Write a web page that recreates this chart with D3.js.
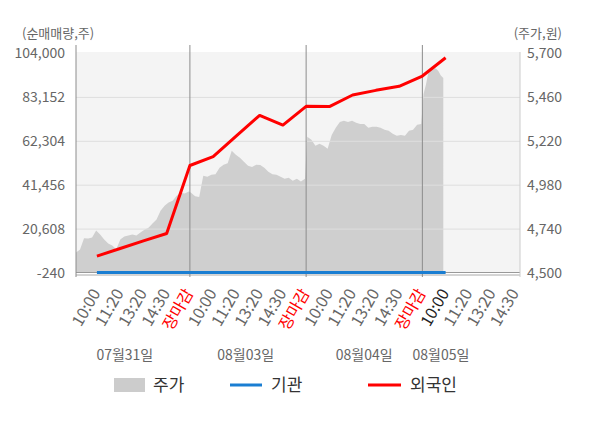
<!DOCTYPE html>
<html>
<head>
<meta charset="utf-8">
<script src="https://cdn.jsdelivr.net/npm/d3@7"></script>
<style>
  body { margin: 0; background: #fff; }
  text { font-family: "Noto Sans CJK KR", "Noto Sans", sans-serif; }
</style>
</head>
<body>
<div id="chart"></div>
<script>
// ---- data ----
const volTicks = [-240, 20608, 41456, 62304, 83152, 104000];
const priceTicks = [4500, 4740, 4980, 5220, 5460, 5700];

const timeLabels = ["10:00", "11:20", "13:20", "14:30", "장마감"];
const dateLabels = ["07월31일", "08월03일", "08월04일", "08월05일"];
const datePos = [2.2, 7.4, 12.5, 15.8]; // in slot units

// price samples for each session (won)
const priceDay1 = [4612, 4628, 4690, 4688, 4694, 4732, 4710, 4683, 4661, 4650, 4630, 4683, 4699, 4705, 4710,
    4705, 4721, 4737, 4748, 4770, 4792, 4841, 4868, 4885, 4895, 4923, 4939, 4934, 4945];
const priceDay2 = [4939, 4920, 4915, 5032, 5026, 5037, 5040, 5075, 5092, 5100, 5168, 5146, 5130, 5108, 5086,
    5080, 5092, 5090, 5075, 5054, 5040, 5037, 5026, 5015, 5021, 5005, 5015, 5000, 5015];
const priceDay3 = [5245, 5228, 5195, 5206, 5195, 5179, 5255, 5294, 5326, 5332, 5326, 5332, 5321, 5315, 5315,
    5294, 5299, 5299, 5294, 5283, 5277, 5261, 5250, 5255, 5250, 5277, 5283, 5310, 5315];
const priceDay4 = [5479, 5530, 5600, 5610, 5621, 5618, 5605, 5580, 5566];

// net buying (shares), one value per time slot 1..16
const foreignNet = [7800, 11400, 15000, 18500, 50800, 55000, 64900, 74600, 70000, 78900, 78800, 84300, 86500, 88400, 93300, 102000];
const institNet = [0, 0, 0, 0, 0, 0, 0, 0, 0, 0, 0, 0, 0, 0, 0, 0];

// ---- layout ----
const W = 600, H = 428;
const plot = { left: 76, right: 520, top: 53.5, bottom: 273 };

const svg = d3.select("#chart").append("svg")
    .attr("width", W)
    .attr("height", H);

const x = d3.scaleLinear().domain([0.1, 19.2]).range([plot.left, plot.right]);
const yVol = d3.scaleLinear().domain([-240, 104000]).range([plot.bottom, plot.top]);
const yPrice = d3.scaleLinear().domain([4500, 5700]).range([plot.bottom, plot.top]);

const fmt = d => d3.format(",")(d).replace("\u2212", "-"); //plain hyphen like the original

// session placement (slot units)
const dayStart = [0.1, 5.05, 10.05, 15.05];
const dayEnd = [4.95, 9.95, 14.95, 15.9];
const priceData = [];
[priceDay1, priceDay2, priceDay3, priceDay4].forEach((arr, d) => {
    arr.forEach((p, i) => {
        priceData.push({ t: dayStart[d] + i * (dayEnd[d] - dayStart[d]) / (arr.length - 1), p: p });
    });
});

//plot background
svg.append("rect")
    .attr("x", plot.left)
    .attr("y", plot.top - 1.5)
    .attr("width", plot.right - plot.left)
    .attr("height", plot.bottom - plot.top + 1.5)
    .attr("fill", "#f4f4f4");

//price area
svg.append("path")
    .datum(priceData)
    .attr("fill", "#cfcfcf")
    .attr("d", d3.area()
        .x(d => x(d.t))
        .y0(plot.bottom)
        .y1(d => yPrice(d.p)));

//horizontal grid lines
svg.append("g")
    .selectAll("line")
    .data(volTicks.slice(1, -1))
    .enter()
    .append("line")
    .attr("x1", plot.left)
    .attr("x2", plot.right)
    .attr("y1", d => yVol(d))
    .attr("y2", d => yVol(d))
    .attr("stroke", "#dedede")
    .attr("stroke-width", 1);

//bottom lines
svg.append("line")
    .attr("x1", plot.left).attr("x2", plot.right)
    .attr("y1", plot.bottom - 0.5).attr("y2", plot.bottom - 0.5)
    .attr("stroke", "#999");
svg.append("line")
    .attr("x1", plot.left).attr("x2", plot.right)
    .attr("y1", plot.bottom + 2).attr("y2", plot.bottom + 2)
    .attr("stroke", "#aaa");

//day separators
svg.append("g")
    .selectAll("line")
    .data([5, 10, 15])
    .enter()
    .append("line")
    .attr("x1", d => x(d))
    .attr("x2", d => x(d))
    .attr("y1", 45)
    .attr("y2", plot.bottom + 4)
    .attr("stroke", "#8c8c8c");

//left and right axis lines
svg.append("line")
    .attr("x1", plot.left).attr("x2", plot.left)
    .attr("y1", 45).attr("y2", plot.bottom + 4)
    .attr("stroke", "#8c8c8c");
svg.append("line")
    .attr("x1", plot.right).attr("x2", plot.right)
    .attr("y1", plot.top - 1.5).attr("y2", plot.bottom + 4)
    .attr("stroke", "#cccccc");

//institution line
const slots = d3.range(1, institNet.length + 1);
svg.append("path")
    .datum(institNet)
    .attr("fill", "none")
    .attr("stroke", "#1a7ed2")
    .attr("stroke-width", 3)
    .attr("d", d3.line().x((d, i) => x(slots[i])).y(d => yVol(d)));

//foreign line
svg.append("path")
    .datum(foreignNet)
    .attr("fill", "none")
    .attr("stroke", "#ff0000")
    .attr("stroke-width", 3)
    .attr("stroke-linejoin", "round")
    .attr("d", d3.line().x((d, i) => x(slots[i])).y(d => yVol(d)));

//left axis labels
svg.append("g")
    .selectAll("text")
    .data(volTicks)
    .enter()
    .append("text")
    .attr("x", 65)
    .attr("y", d => yVol(d))
    .attr("dy", "0.35em")
    .attr("text-anchor", "end")
    .style("font-size", "14px")
    .style("fill", "#666")
    .text(d => fmt(d));

//right axis labels
svg.append("g")
    .selectAll("text")
    .data(priceTicks)
    .enter()
    .append("text")
    .attr("x", 527)
    .attr("y", d => yPrice(d))
    .attr("dy", "0.35em")
    .style("font-size", "14px")
    .style("fill", "#666")
    .text(d => fmt(d));

//axis titles
svg.append("text")
    .attr("x", 22).attr("y", 38)
    .style("font-size", "13px").style("fill", "#666")
    .text("(순매매량,주)");
svg.append("text")
    .attr("x", 562).attr("y", 38)
    .attr("text-anchor", "end")
    .style("font-size", "13px").style("fill", "#666")
    .text("(주가,원)");

//time tick labels
const tickData = [];
for (let t = 1; t <= 19; t++) {
    tickData.push({ t: t, label: timeLabels[(t - 1) % 5] });
}
svg.append("g")
    .selectAll("text")
    .data(tickData)
    .enter()
    .append("text")
    .attr("text-anchor", "end")
    .attr("transform", d => "translate(" + (x(d.t) + 4) + "," + 293 + ") rotate(-60)")
    .style("font-size", "16px")
    .style("fill", d => d.label === "장마감" ? "#ff0000" : (d.t === 16 ? "#222" : "#666"))
    .text(d => d.label);

//date labels
svg.append("g")
    .selectAll("text")
    .data(dateLabels)
    .enter()
    .append("text")
    .attr("x", (d, i) => x(datePos[i]))
    .attr("y", 360)
    .attr("text-anchor", "middle")
    .style("font-size", "14px")
    .style("fill", "#666")
    .text(d => d);

//legend
const legend = svg.append("g").attr("class", "legend");
legend.append("rect")
    .attr("x", 114).attr("y", 378)
    .attr("width", 31).attr("height", 14)
    .attr("fill", "#cccccc");
legend.append("text")
    .attr("x", 153).attr("y", 385).attr("dy", "0.36em")
    .style("font-size", "17px").style("fill", "#333")
    .text("주가");
legend.append("line")
    .attr("x1", 230).attr("x2", 262)
    .attr("y1", 385).attr("y2", 385)
    .attr("stroke", "#1a7ed2").attr("stroke-width", 3);
legend.append("text")
    .attr("x", 271).attr("y", 385).attr("dy", "0.36em")
    .style("font-size", "17px").style("fill", "#333")
    .text("기관");
legend.append("line")
    .attr("x1", 368).attr("x2", 401)
    .attr("y1", 385).attr("y2", 385)
    .attr("stroke", "#ff0000").attr("stroke-width", 3);
legend.append("text")
    .attr("x", 410).attr("y", 385).attr("dy", "0.36em")
    .style("font-size", "17px").style("fill", "#333")
    .text("외국인");
</script>
</body>
</html>
